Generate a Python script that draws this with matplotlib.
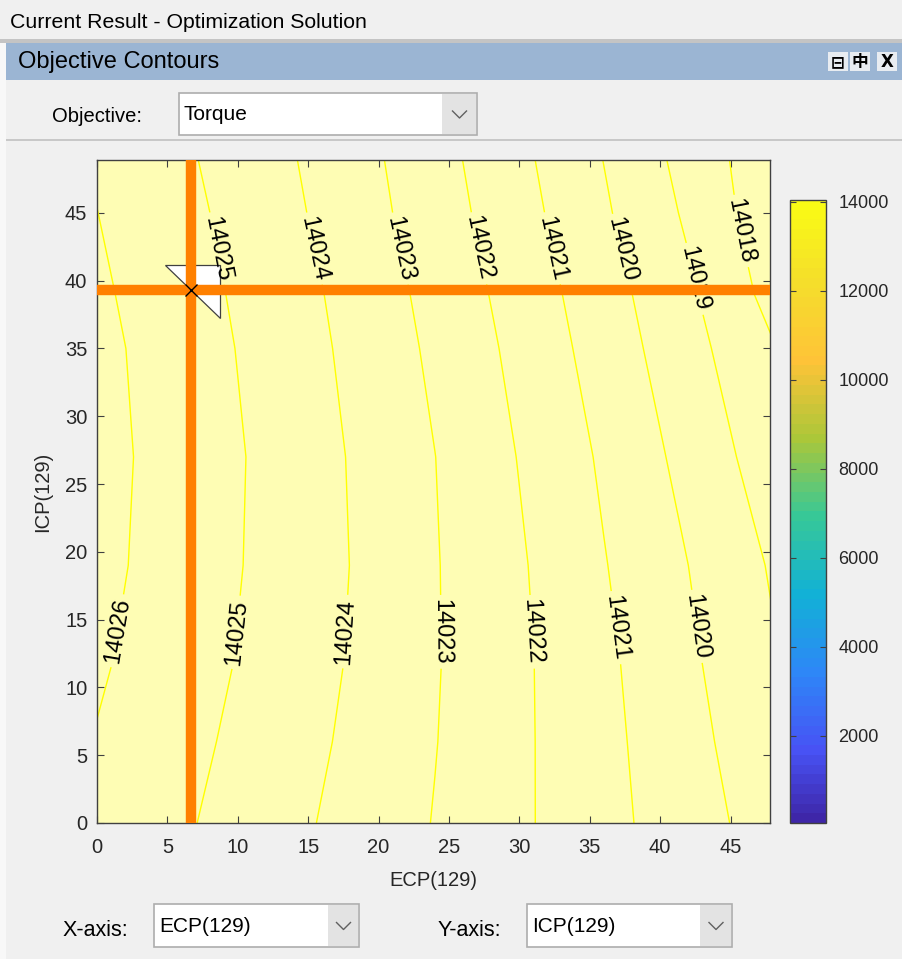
import matplotlib
matplotlib.use('Agg')
import matplotlib.pyplot as plt
from matplotlib.patches import Rectangle
from matplotlib.lines import Line2D
from matplotlib.colors import LinearSegmentedColormap, Normalize
from matplotlib.cm import ScalarMappable
from matplotlib.transforms import Affine2D

plt.rcParams['font.family'] = ['Liberation Sans', 'DejaVu Sans', 'Noto Sans CJK SC']

# torque on a coarse grid (ECP across, ICP up)
ecp = [0, 6, 12, 18, 24, 30, 36, 42, 48]
icp = [0, 6, 12, 19, 27, 35, 39, 45, 49]
torque = [
    [14025.83, 14025.13, 14024.43, 14023.71, 14022.96, 14022.16, 14021.31, 14020.44, 14019.54],
    [14025.95, 14025.29, 14024.59, 14023.84, 14023.03, 14022.17, 14021.26, 14020.32, 14019.29],
    [14026.13, 14025.44, 14024.73, 14023.94, 14023.07, 14022.17, 14021.20, 14020.17, 14019.10],
    [14026.27, 14025.54, 14024.80, 14023.99, 14023.06, 14022.11, 14021.05, 14020.00, 14018.90],
    [14026.32, 14025.58, 14024.82, 14023.95, 14023.01, 14021.96, 14020.86, 14019.69, 14018.48],
    [14026.26, 14025.50, 14024.71, 14023.81, 14022.82, 14021.74, 14020.57, 14019.35, 14018.07],
    [14026.16, 14025.42, 14024.62, 14023.72, 14022.70, 14021.60, 14020.42, 14019.17, 14017.67],
    [14026.01, 14025.28, 14024.45, 14023.52, 14022.48, 14021.37, 14020.13, 14018.85, 14017.36],
    [14025.90, 14025.16, 14024.34, 14023.42, 14022.37, 14021.23, 14019.98, 14018.66, 14017.30],
]
levels = [14018, 14019, 14020, 14021, 14022, 14023, 14024, 14025, 14026]

# current optimum and the direction triangle
opt_ecp = 6.7
opt_icp = 39.3
tri_ecp = [4.83, 8.73, 8.73]
tri_icp = [41.15, 41.15, 37.22]

cbar_min, cbar_max = 40, 14040
cbar_ticks = [2000, 4000, 6000, 8000, 10000, 12000, 14000]
xticks = [0, 5, 10, 15, 20, 25, 30, 35, 40, 45]
yticks = [0, 5, 10, 15, 20, 25, 30, 35, 40, 45]

# where the contour labels sit (layout only)
label_pos = [(8.7, 42.4), (15.6, 42.4), (21.7, 42.4), (27.2, 42.4), (32.4, 42.4),
             (37.3, 42.3), (42.3, 40.1), (45.9, 43.7),
             (1.9, 14.1), (10.5, 14.0), (17.9, 14.1), (24.4, 14.1), (30.9, 14.1),
             (36.8, 14.4), (42.6, 14.5)]

parula = LinearSegmentedColormap.from_list('parula', [
    (0.0, (0.2422, 0.1504, 0.6603)),
    (0.111, (0.2810, 0.3228, 0.9579)),
    (0.238, (0.1786, 0.5289, 0.9682)),
    (0.365, (0.0689, 0.6948, 0.8394)),
    (0.492, (0.2161, 0.7843, 0.5923)),
    (0.619, (0.6720, 0.7793, 0.2227)),
    (0.746, (0.9970, 0.7659, 0.2199)),
    (0.873, (0.9600, 0.8700, 0.1700)),
    (1.0, (0.9769, 0.9839, 0.0805))], N=64)

W, H = 902, 959
fig = plt.figure(figsize=(W / 100, H / 100), dpi=100, facecolor='#f0f0f0')
px = Affine2D().scale(1 / W, -1 / H).translate(0, 1) + fig.transFigure


def rect(x0, y0, x1, y1, fc, ec='none', lw=1.0):
    fig.add_artist(Rectangle((x0, y0), x1 - x0, y1 - y0, transform=px,
                             facecolor=fc, edgecolor=ec, linewidth=lw))


def label(x, y, s, size, **kw):
    fig.text(x, y, s, transform=px, ha=kw.pop('ha', 'left'), va='center',
             fontsize=size, color='black', **kw)


def dropdown(x0, y0, x1, y1, split, s):
    rect(x0, y0, x1, y1, 'white', '#adadad', 1.2)
    rect(split, y0 + 1, x1 - 1, y1 - 1, '#e3e3e3')
    cx, cy = (split + x1) / 2, (y0 + y1) / 2
    fig.add_artist(Line2D([cx - 7, cx, cx + 7], [cy - 3, cy + 4, cy - 3],
                          transform=px, color='#606060', lw=1.0))
    label(x0 + 5, cy + 1, s, 15)


# window chrome
rect(0, 43, 6, H, '#f8f8f8')
label(10, 23, 'Current Result - Optimization Solution', 15.3)
rect(0, 39, W, 43, '#c4c4c4')
rect(6, 43, W, 80, '#9bb5d3')
label(18, 62, 'Objective Contours', 17)
for (bx, glyph, fam) in [(828, '⊟', 'DejaVu Sans'), (850, '中', 'Noto Sans CJK SC'),
                         (877, 'X', 'DejaVu Sans')]:
    rect(bx, 52, bx + 20, 71, '#e8ecf1')
    label(bx + 10, 62, glyph, 12, ha='center', family=fam, weight='bold')
rect(6, 139, W, 141, '#c8c8c8')
label(52, 116, 'Objective:', 14.5)
dropdown(179, 93, 477, 135, 442, 'Torque')
label(63, 931, 'X-axis:', 15.5)
dropdown(154, 904, 359, 947, 328, 'ECP(129)')
label(438, 931, 'Y-axis:', 15.5)
dropdown(527, 904, 732, 947, 700, 'ICP(129)')

# contour axes
ax = fig.add_axes([97 / W, 1 - 823 / H, 673 / W, 663 / H])
ax.set_facecolor('#fefdb4')
cs = ax.contour(ecp, icp, torque, levels=levels, colors='#ffff00', linewidths=1.0)
ax.clabel(cs, fmt='%d', fontsize=17, colors='black', manual=label_pos,
          inline=True, inline_spacing=4)
ax.fill(tri_ecp, tri_icp, facecolor='white', edgecolor='#404040', lw=0.9, zorder=2.5)
ax.axvline(opt_ecp, color='#ff8000', lw=7.5, zorder=4)
ax.axhline(opt_icp, color='#ff8000', lw=7.5, zorder=4)
ax.plot([opt_ecp], [opt_icp], marker='x', color='black', ms=8, mew=1.0, zorder=5)

ax.set_xlim(0, 47.8)
ax.set_ylim(0, 48.9)
ax.set_xticks(xticks)
ax.set_yticks(yticks)
ax.tick_params(direction='in', top=True, right=True, length=5, width=0.8,
               colors='#404040', labelcolor='#262626', labelsize=14.5)
ax.tick_params(axis='x', pad=11)
ax.tick_params(axis='y', pad=7)
for sp in ax.spines.values():
    sp.set_color('#404040')
    sp.set_linewidth(1.0)
ax.set_xlabel('ECP(129)', fontsize=14.5, color='#262626')
ax.set_ylabel('ICP(129)', fontsize=14.5, color='#262626')
ax.xaxis.set_label_coords(0.5, -(880 - 823) / 663)
ax.xaxis.label.set_va('center')
ax.yaxis.set_label_coords(-(97 - 43) / 673, 0.5)
ax.yaxis.label.set_va('center')

# colorbar
cax = fig.add_axes([790 / W, 1 - 823 / H, 36 / W, 623 / H])
sm = ScalarMappable(norm=Normalize(cbar_min, cbar_max), cmap=parula)
cb = fig.colorbar(sm, cax=cax, ticks=cbar_ticks)
cax.yaxis.set_ticks_position('both')
cax.tick_params(direction='in', length=4, width=0.8, colors='#404040',
                labelcolor='#262626', labelsize=13, pad=9, labelleft=False,
                labelright=True)
cb.outline.set_edgecolor('#404040')
cb.outline.set_linewidth(1.0)

fig.savefig('out.png', dpi=100, facecolor=fig.get_facecolor())
